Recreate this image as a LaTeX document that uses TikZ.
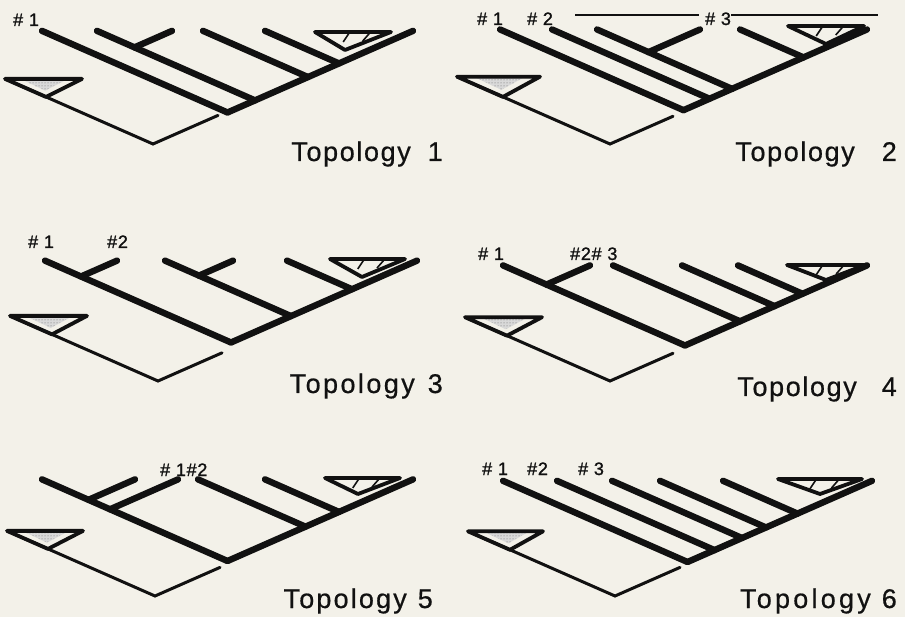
\documentclass[tikz,border=0pt]{standalone}
\usepackage{fontspec}
\setmainfont{Liberation Sans}
\newfontfamily\numerofont[LetterSpace=4,FakeBold=1.2]{Liberation Sans}
\newfontfamily\titolofont[LetterSpace=6,FakeBold=0.6]{Liberation Sans}
\usetikzlibrary{calc, patterns}

\definecolor{carta}{RGB}{243,241,233}
\definecolor{nero}{RGB}{17,17,17}

\begin{document}
\begin{tikzpicture}[x=1pt, y=-1pt,
    ramo/.style={nero, line width=6.4pt, line cap=round},
    esterno/.style={nero, line width=3pt, line cap=round},
    gruppo/.style={nero, line width=3.8pt, line join=round},
    tratteggio/.style={nero, line width=1.6pt},
    filo/.style={nero, line width=1.8pt},
    puntini/.style={fill=black!15, postaction={pattern=dots, pattern color=black!60}},
    numero/.style={nero, inner sep=0pt, anchor=base west, font=\numerofont\fontsize{18}{18}\selectfont},
    titolo/.style={nero, inner sep=0pt, anchor=base east, font=\titolofont\fontsize{27}{27}\selectfont}]
  % sfondo
  \fill[carta] (0,0) rectangle (905,617);

  % direzioni dei rami
  \coordinate (eb) at (1,-0.44);
  \coordinate (el) at (-1,-0.44);

  % ---------- topologia 1 ----------
  \coordinate (R) at (227.5,112.5);
  \def\quota{185.5}
  \foreach \pa in {0,27.5,80.5,111.5}{
    \pgfmathsetmacro\pb{\quota-\pa}
    \draw[ramo] ($(R)+\pa*(eb)$) -- ($(R)+\pa*(eb)+\pb*(el)$);
  }
  \foreach \pa/\pb in {27.5/120.5}{
    \pgfmathsetmacro\pc{\quota-\pb}
    \draw[ramo] ($(R)+\pa*(eb)+\pb*(el)$) -- ($(R)+\pc*(eb)+\pb*(el)$);
  }
  \draw[ramo] (R) -- ($(R)+\quota*(eb)$);
  % gruppo esterno
  \coordinate (V) at (153,144);
  \coordinate (E) at ($(V)+65*(eb)$);
  \coordinate (P) at ($(V)+148*(el)$);
  \coordinate (Q) at ($(V)+107*(el)$);
  \coordinate (S) at ($(P)+(77,0)$);
  \coordinate (M) at ($(P)!0.5!(S)$);
  \path[puntini] ($(P)!0.2!(S)$) -- ($(P)!0.82!(S)$) -- ($(Q)!0.35!(M)$) -- cycle;
  \draw[gruppo] (P) -- (S) -- (Q) -- cycle;
  \draw[esterno] (P) -- (V) -- (E);
  % gruppo tratteggiato
  \coordinate (A) at (315,32);
  \coordinate (B) at (391,32);
  \coordinate (C) at (345,50);
  \draw[gruppo] (A) -- (B) -- (C) -- cycle;
  \draw[tratteggio] ($(A)!0.45!(B)$) ++(0,1) -- ++(-6,9);
  \draw[tratteggio] ($(A)!0.72!(B)$) ++(0,1) -- ++(-7,8);
  % etichette
  \node[numero] (n11) at (13,26) {\# 1};
  \node[titolo] (t1) at (443,161) {Topology\hspace{17pt}1};

  % ---------- topologia 2 ----------
  \coordinate (R) at (683.5,110.2);
  \def\quota{183.5}
  \foreach \pa in {0,26,48.5,120}{
    \pgfmathsetmacro\pb{\quota-\pa}
    \draw[ramo] ($(R)+\pa*(eb)$) -- ($(R)+\pa*(eb)+\pb*(el)$);
  }
  \foreach \pa/\pb in {48.5/83.5}{
    \pgfmathsetmacro\pc{\quota-\pb}
    \draw[ramo] ($(R)+\pa*(eb)+\pb*(el)$) -- ($(R)+\pc*(eb)+\pb*(el)$);
  }
  \draw[ramo] (R) -- ($(R)+\quota*(eb)$);
  % gruppo esterno
  \coordinate (V) at (610,144);
  \coordinate (E) at ($(V)+63*(eb)$);
  \coordinate (P) at ($(V)+153*(el)$);
  \coordinate (Q) at ($(V)+107*(el)$);
  \coordinate (S) at ($(P)+(83,0)$);
  \coordinate (M) at ($(P)!0.5!(S)$);
  \path[puntini] ($(P)!0.2!(S)$) -- ($(P)!0.82!(S)$) -- ($(Q)!0.35!(M)$) -- cycle;
  \draw[gruppo] (P) -- (S) -- (Q) -- cycle;
  \draw[esterno] (P) -- (V) -- (E);
  % gruppo tratteggiato
  \coordinate (A) at (788,26);
  \coordinate (B) at (864,26);
  \coordinate (C) at (826,44);
  \draw[gruppo] (A) -- (B) -- (C) -- cycle;
  \draw[tratteggio] ($(A)!0.45!(B)$) ++(0,1) -- ++(-6,9);
  \draw[tratteggio] ($(A)!0.72!(B)$) ++(0,1) -- ++(-7,8);
  % etichette
  \node[numero] (n21) at (477,25) {\# 1};
  \node[numero] (n22) at (527,25) {\# 2};
  \node[numero] (n23) at (705,25) {\# 3};
  \coordinate (h1) at (575,15);
  \coordinate (h2) at (878,15);
  \draw[filo] (h1) -- ($(h1 -| n23.west)+(-6,0)$);
  \draw[filo] (n23.east |- h2) -- (h2);
  \node[titolo] (t2) at (897,161) {Topology\hspace{27pt}2};

  % ---------- topologia 3 ----------
  \coordinate (R) at (231,342.5);
  \def\quota{186}
  \foreach \pa in {0,60,121}{
    \pgfmathsetmacro\pb{\quota-\pa}
    \draw[ramo] ($(R)+\pa*(eb)$) -- ($(R)+\pa*(eb)+\pb*(el)$);
  }
  \foreach \pa/\pb in {0/150,60/92}{
    \pgfmathsetmacro\pc{\quota-\pb}
    \draw[ramo] ($(R)+\pa*(eb)+\pb*(el)$) -- ($(R)+\pc*(eb)+\pb*(el)$);
  }
  \draw[ramo] (R) -- ($(R)+\quota*(eb)$);
  % gruppo esterno
  \coordinate (V) at (158,381);
  \coordinate (E) at ($(V)+64*(eb)$);
  \coordinate (P) at ($(V)+148*(el)$);
  \coordinate (Q) at ($(V)+106*(el)$);
  \coordinate (S) at ($(P)+(77,0)$);
  \coordinate (M) at ($(P)!0.5!(S)$);
  \path[puntini] ($(P)!0.2!(S)$) -- ($(P)!0.82!(S)$) -- ($(Q)!0.35!(M)$) -- cycle;
  \draw[gruppo] (P) -- (S) -- (Q) -- cycle;
  \draw[esterno] (P) -- (V) -- (E);
  % gruppo tratteggiato
  \coordinate (A) at (330,259);
  \coordinate (B) at (405,259);
  \coordinate (C) at (362,277);
  \draw[gruppo] (A) -- (B) -- (C) -- cycle;
  \draw[tratteggio] ($(A)!0.45!(B)$) ++(0,1) -- ++(-6,9);
  \draw[tratteggio] ($(A)!0.72!(B)$) ++(0,1) -- ++(-7,8);
  % etichette
  \node[numero] (n31) at (28,248) {\# 1};
  \node[numero] (n32) at (107,248) {\#2};
  \node[titolo] (t3) at (443,393) {\addfontfeature{LetterSpace=9}Topology\hspace{13pt}3};

  % ---------- topologia 4 ----------
  \coordinate (R) at (685,345.5);
  \def\quota{182}
  \foreach \pa in {0,55,89.5,117.5}{
    \pgfmathsetmacro\pb{\quota-\pa}
    \draw[ramo] ($(R)+\pa*(eb)$) -- ($(R)+\pa*(eb)+\pb*(el)$);
  }
  \foreach \pa/\pb in {0/138.5}{
    \pgfmathsetmacro\pc{\quota-\pb}
    \draw[ramo] ($(R)+\pa*(eb)+\pb*(el)$) -- ($(R)+\pc*(eb)+\pb*(el)$);
  }
  \draw[ramo] (R) -- ($(R)+\quota*(eb)$);
  % gruppo esterno
  \coordinate (V) at (610,381);
  \coordinate (E) at ($(V)+63*(eb)$);
  \coordinate (P) at ($(V)+145*(el)$);
  \coordinate (Q) at ($(V)+103*(el)$);
  \coordinate (S) at ($(P)+(77,0)$);
  \coordinate (M) at ($(P)!0.5!(S)$);
  \path[puntini] ($(P)!0.2!(S)$) -- ($(P)!0.82!(S)$) -- ($(Q)!0.35!(M)$) -- cycle;
  \draw[gruppo] (P) -- (S) -- (Q) -- cycle;
  \draw[esterno] (P) -- (V) -- (E);
  % gruppo tratteggiato
  \coordinate (A) at (787,265);
  \coordinate (B) at (865,265);
  \coordinate (C) at (826,280);
  \draw[gruppo] (A) -- (B) -- (C) -- cycle;
  \draw[tratteggio] ($(A)!0.45!(B)$) ++(0,1) -- ++(-6,9);
  \draw[tratteggio] ($(A)!0.72!(B)$) ++(0,1) -- ++(-7,8);
  % etichette
  \node[numero] (n41) at (478,260) {\# 1};
  \node[numero] (n42) at (570,260) {\#2\# 3};
  \node[titolo] (t4) at (897,396) {Topology\hspace{25pt}4};

  % ---------- topologia 5 ----------
  \coordinate (R) at (227.5,561);
  \def\quota{185.5}
  \foreach \pa in {0,78,111.5}{
    \pgfmathsetmacro\pb{\quota-\pa}
    \draw[ramo] ($(R)+\pa*(eb)$) -- ($(R)+\pa*(eb)+\pb*(el)$);
  }
  \foreach \pa/\pb in {0/139,0/117.5}{
    \pgfmathsetmacro\pc{\quota-\pb}
    \draw[ramo] ($(R)+\pa*(eb)+\pb*(el)$) -- ($(R)+\pc*(eb)+\pb*(el)$);
  }
  \draw[ramo] (R) -- ($(R)+\quota*(eb)$);
  % gruppo esterno
  \coordinate (V) at (155,596);
  \coordinate (E) at ($(V)+65*(eb)$);
  \coordinate (P) at ($(V)+148*(el)$);
  \coordinate (Q) at ($(V)+107*(el)$);
  \coordinate (S) at ($(P)+(76,0)$);
  \coordinate (M) at ($(P)!0.5!(S)$);
  \path[puntini] ($(P)!0.2!(S)$) -- ($(P)!0.82!(S)$) -- ($(Q)!0.35!(M)$) -- cycle;
  \draw[gruppo] (P) -- (S) -- (Q) -- cycle;
  \draw[esterno] (P) -- (V) -- (E);
  % gruppo tratteggiato
  \coordinate (A) at (325,478);
  \coordinate (B) at (400,478);
  \coordinate (C) at (358,494);
  \draw[gruppo] (A) -- (B) -- (C) -- cycle;
  \draw[tratteggio] ($(A)!0.45!(B)$) ++(0,1) -- ++(-6,9);
  \draw[tratteggio] ($(A)!0.72!(B)$) ++(0,1) -- ++(-7,8);
  % etichette
  \node[numero] (n51) at (160,476) {\# 1\#2};
  \node[titolo] (t5) at (433,608) {\addfontfeature{LetterSpace=8}Topology\hspace{11pt}5};

  % ---------- topologia 6 ----------
  \coordinate (R) at (687.5,562);
  \def\quota{184.5}
  \foreach \pa in {0,27,54.5,78.5,110}{
    \pgfmathsetmacro\pb{\quota-\pa}
    \draw[ramo] ($(R)+\pa*(eb)$) -- ($(R)+\pa*(eb)+\pb*(el)$);
  }
  \draw[ramo] (R) -- ($(R)+\quota*(eb)$);
  % gruppo esterno
  \coordinate (V) at (615,596);
  \coordinate (E) at ($(V)+65*(eb)$);
  \coordinate (P) at ($(V)+147*(el)$);
  \coordinate (Q) at ($(V)+105*(el)$);
  \coordinate (S) at ($(P)+(75,0)$);
  \coordinate (M) at ($(P)!0.5!(S)$);
  \path[puntini] ($(P)!0.2!(S)$) -- ($(P)!0.82!(S)$) -- ($(Q)!0.35!(M)$) -- cycle;
  \draw[gruppo] (P) -- (S) -- (Q) -- cycle;
  \draw[esterno] (P) -- (V) -- (E);
  % gruppo tratteggiato
  \coordinate (A) at (778,479);
  \coordinate (B) at (862,479);
  \coordinate (C) at (820,494);
  \draw[gruppo] (A) -- (B) -- (C) -- cycle;
  \draw[tratteggio] ($(A)!0.45!(B)$) ++(0,1) -- ++(-6,9);
  \draw[tratteggio] ($(A)!0.72!(B)$) ++(0,1) -- ++(-7,8);
  % etichette
  \node[numero] (n61) at (482,475) {\# 1};
  \node[numero] (n62) at (527,475) {\#2};
  \node[numero] (n63) at (578,475) {\# 3};
  \node[titolo] (t6) at (897,608) {\addfontfeature{LetterSpace=12}Topology\hspace{11pt}6};
\end{tikzpicture}
\end{document}
